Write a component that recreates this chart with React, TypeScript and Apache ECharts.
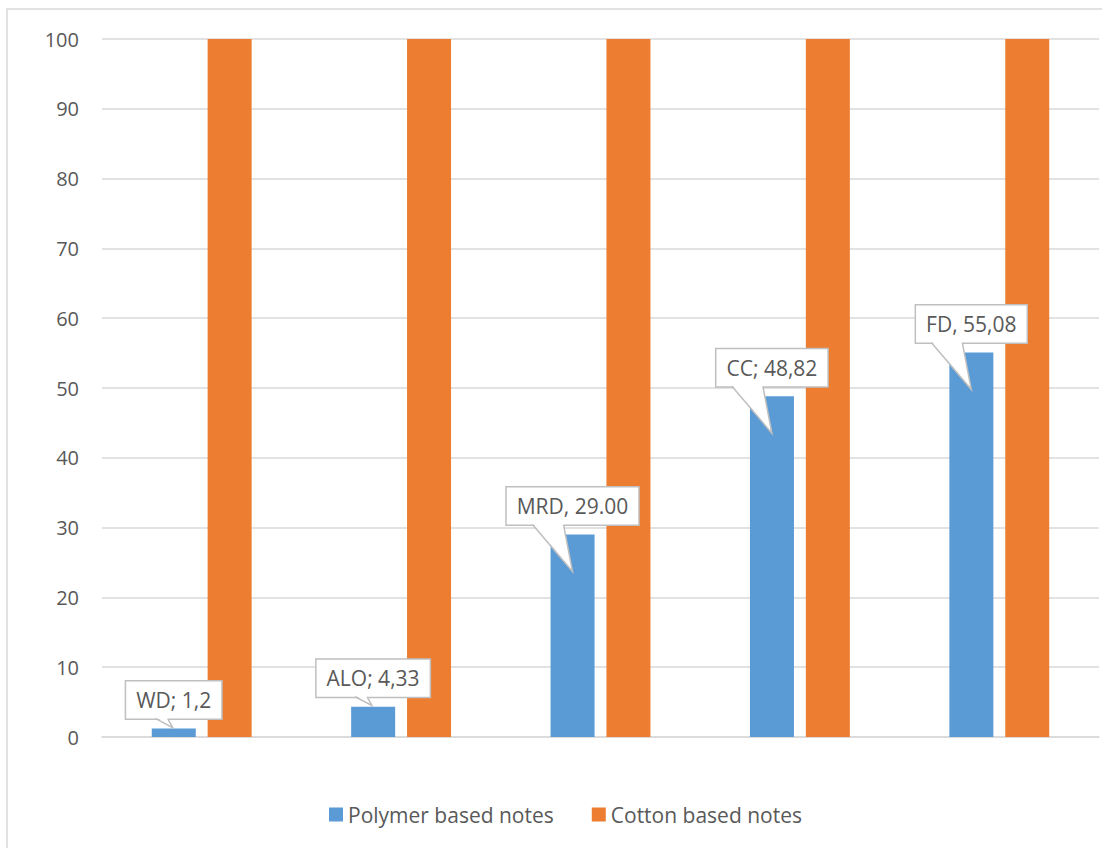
import React, { useEffect, useRef } from "react";
import * as echarts from "echarts";

const categories = ["WD", "ALO", "MRD", "CC", "FD"];
const polymerValues = [1.2, 4.33, 29.0, 48.82, 55.08];
const cottonValues = [100, 100, 100, 100, 100];
const calloutLabels = ["WD; 1,2", "ALO; 4,33", "MRD, 29.00", "CC; 48,82", "FD, 55,08"];
const seriesNames = ["Polymer based notes", "Cotton based notes"];

const FONT = "Open Sans";
const TEXT_COLOR = "#595959";
const GRID_COLOR = "#D9D9D9";
const CALLOUT_BORDER = "#BFBFBF";

export default function App() {
  const ref = useRef<HTMLDivElement>(null);

  useEffect(() => {
    document.body.style.margin = "0";
    if (!ref.current) return;
    const chart = echarts.init(ref.current, undefined, { renderer: "svg" });

    const renderCallout = (params: any, api: any) => {
      const idx = api.value(0);
      const val = api.value(1);
      const pt = api.coord([idx, val]);
      const cx = pt[0] - 28;
      const top = pt[1];
      const boxBottom = top - 10;
      const long = val > 20;
      const baseL = long ? cx - 40 : cx - 18;
      const baseR = long ? cx - 9 : cx - 6;
      const tipX = long ? cx : cx - 1;
      const tipY = long ? top + 37 : top - 1;
      return {
        type: "group",
        children: [
          {
            type: "text",
            style: {
              text: calloutLabels[params.dataIndex],
              x: cx,
              y: boxBottom,
              align: "center",
              verticalAlign: "bottom",
              fill: TEXT_COLOR,
              fontFamily: FONT,
              fontSize: 21,
              lineHeight: 25,
              backgroundColor: "#FFFFFF",
              borderColor: CALLOUT_BORDER,
              borderWidth: 1.5,
              padding: [6, 10, 6, 10],
            },
          },
          {
            type: "polygon",
            shape: {
              points: [
                [baseL, boxBottom - 1.5],
                [tipX, tipY],
                [baseR, boxBottom - 1.5],
              ],
            },
            style: { fill: "#FFFFFF", stroke: "none" },
          },
          {
            type: "polyline",
            shape: {
              points: [
                [baseL, boxBottom],
                [tipX, tipY],
                [baseR, boxBottom],
              ],
            },
            style: { stroke: CALLOUT_BORDER, lineWidth: 1.5, fill: "none" },
          },
        ],
      };
    };

    chart.setOption({
      animation: false,
      backgroundColor: "#FFFFFF",
      textStyle: { fontFamily: FONT },
      graphic: [
        {
          type: "rect",
          shape: { x: 7, y: 9, width: 1200, height: 1000 },
          style: { fill: "none", stroke: GRID_COLOR, lineWidth: 1.5 },
          silent: true,
          z: -10,
        },
      ],
      grid: { left: 102, right: 3, top: 39, bottom: 111 },
      legend: {
        data: seriesNames,
        left: 329,
        top: 804,
        padding: 0,
        icon: "rect",
        itemWidth: 14,
        itemHeight: 14,
        itemGap: 38,
        textStyle: { color: TEXT_COLOR, fontSize: 21, fontFamily: FONT },
      },
      xAxis: {
        type: "category",
        data: categories,
        axisLine: { show: true, lineStyle: { color: GRID_COLOR, width: 1.5 } },
        axisTick: { show: false },
        axisLabel: { show: false },
      },
      yAxis: {
        type: "value",
        min: 0,
        max: 100,
        interval: 10,
        axisLine: { show: false },
        axisTick: { show: false },
        axisLabel: { color: TEXT_COLOR, fontSize: 20, fontFamily: FONT, margin: 23 },
        splitLine: { lineStyle: { color: GRID_COLOR, width: 1.5 } },
      },
      series: [
        {
          name: seriesNames[0],
          type: "bar",
          data: polymerValues,
          barWidth: 44,
          barGap: "27%",
          itemStyle: { color: "#5B9BD5" },
        },
        {
          name: seriesNames[1],
          type: "bar",
          data: cottonValues,
          barWidth: 44,
          barGap: "27%",
          itemStyle: { color: "#ED7D31" },
        },
        {
          name: "callouts",
          type: "custom",
          renderItem: renderCallout,
          data: polymerValues.map((v, i) => [i, v]),
          encode: { x: 0, y: 1 },
          z: 10,
          silent: true,
        },
      ],
    });

    return () => chart.dispose();
  }, []);

  return <div ref={ref} style={{ width: 1102, height: 848 }} />;
}
